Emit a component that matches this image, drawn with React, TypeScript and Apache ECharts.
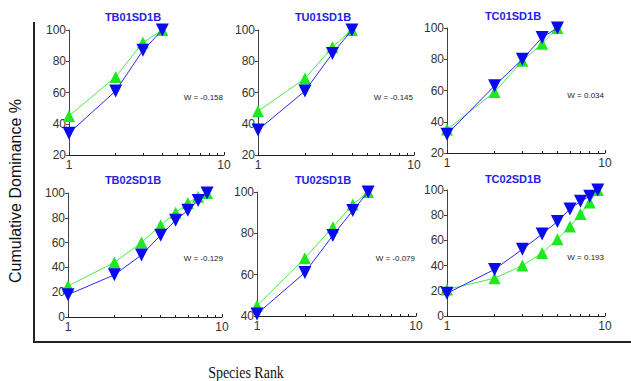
import React, { useEffect, useRef } from "react";
import * as echarts from "echarts";

const panelTitles = ["TB01SD1B", "TU01SD1B", "TC01SD1B", "TB02SD1B", "TU02SD1B", "TC02SD1B"];
const wLabels = ["W = -0.158", "W = -0.145", "W = 0.034", "W = -0.129", "W = -0.079", "W = 0.193"];
const yMins = [20, 20, 20, 0, 40, 0];
const yMax = 100;
const xTickLabels = ["1", "10"];

// cumulative dominance (%) by species rank 1..n
const greenSeries: number[][] = [
  [45, 70, 92, 100],
  [48, 69, 89, 100],
  [35, 59, 79, 90, 100],
  [25, 44, 60, 74, 84, 92, 97, 100],
  [45, 68, 83, 94, 100],
  [21, 30, 40, 50, 61, 71, 81, 90, 100],
];
const blueSeries: number[][] = [
  [34, 61, 87, 100],
  [36, 61, 85, 100],
  [32, 63, 80, 94, 100],
  [18, 34, 50, 66, 78, 86, 94, 100],
  [41, 61, 79, 91, 100],
  [18, 37, 53, 65, 75, 85, 91, 95, 100],
];

const FONT = "'Liberation Sans', Arial, sans-serif";

const grids = [
  { left: 69, top: 30, width: 155, height: 125 },
  { left: 258, top: 30, width: 156, height: 125 },
  { left: 447, top: 28, width: 158, height: 125 },
  { left: 68, top: 193, width: 154, height: 124 },
  { left: 257, top: 192, width: 159, height: 124 },
  { left: 447, top: 190, width: 158, height: 126 },
];
const titlePos = [
  [133, 17], [323, 17], [513, 16], [133, 180], [323, 180], [513, 179],
];
const wPos = [
  [223, 97], [413, 97], [604, 95], [223, 258], [415, 258], [604, 257],
];

export default function App() {
  const ref = useRef<HTMLDivElement>(null);
  useEffect(() => {
    document.body.style.margin = "0";
    const chart = echarts.init(ref.current!, null, { renderer: "svg" });
    const xAxis: any[] = [];
    const yAxis: any[] = [];
    const series: any[] = [];
    const graphic: any[] = [];
    grids.forEach((g, i) => {
      xAxis.push({
        type: "log",
        logBase: 10,
        gridIndex: i,
        min: 1,
        max: 10,
        axisLine: { lineStyle: { color: "#222", width: 1 } },
        axisTick: { show: true, inside: true, length: 3, lineStyle: { color: "#222" } },
        minorTick: { show: true, splitNumber: 9, length: 2, lineStyle: { color: "#222" } },
        splitLine: { show: false },
        minorSplitLine: { show: false },
        axisLabel: {
          fontFamily: FONT,
          fontSize: 12,
          color: "#333",
          margin: 4,
          formatter: (v: number) => (v === 1 ? xTickLabels[0] : v === 10 ? xTickLabels[1] : ""),
        },
      });
      yAxis.push({
        type: "value",
        gridIndex: i,
        min: yMins[i],
        max: yMax,
        interval: 20,
        axisLine: { show: true, lineStyle: { color: "#444", width: 1 } },
        axisTick: { show: true, length: 3, lineStyle: { color: "#444" } },
        splitLine: { show: false },
        axisLabel: { fontFamily: FONT, fontSize: 12, color: "#333", margin: 3 },
      });
      series.push({
        type: "line",
        xAxisIndex: i,
        yAxisIndex: i,
        data: greenSeries[i].map((v, k) => [k + 1, v]),
        symbol: "triangle",
        symbolSize: [12, 12],
        itemStyle: { color: "#1ee81e" },
        lineStyle: { color: "#44ee44", width: 1 },
        z: 2,
      });
      series.push({
        type: "line",
        xAxisIndex: i,
        yAxisIndex: i,
        data: blueSeries[i].map((v, k) => [k + 1, v]),
        symbol: "triangle",
        symbolRotate: 180,
        symbolSize: [13, 13],
        itemStyle: { color: "#0a0af0" },
        lineStyle: { color: "#2a2af0", width: 1 },
        z: 3,
      });
      graphic.push({
        type: "text",
        x: titlePos[i][0],
        y: titlePos[i][1],
        style: {
          text: panelTitles[i],
          fill: "#2323e0",
          font: `bold 11px ${FONT}`,
          textAlign: "center",
          textVerticalAlign: "middle",
        },
      });
      graphic.push({
        type: "text",
        x: wPos[i][0],
        y: wPos[i][1],
        style: {
          text: wLabels[i],
          fill: "#222",
          font: `8px ${FONT}`,
          textAlign: "right",
          textVerticalAlign: "middle",
        },
      });
    });
    graphic.push(
      { type: "line", shape: { x1: 34, y1: 22, x2: 34, y2: 342 }, style: { stroke: "#222", lineWidth: 2 } },
      { type: "line", shape: { x1: 33, y1: 342, x2: 631, y2: 342 }, style: { stroke: "#222", lineWidth: 2 } },
      {
        type: "text",
        x: 15,
        y: 191,
        rotation: Math.PI / 2,
        style: {
          text: "Cumulative Dominance %",
          fill: "#111",
          font: `16px ${FONT}`,
          textAlign: "center",
          textVerticalAlign: "middle",
        },
      },
      {
        type: "text",
        x: 246,
        y: 372,
        scaleY: 1.25,
        style: {
          text: "Species Rank",
          fill: "#111",
          font: "14px 'Liberation Serif', 'Times New Roman', serif",
          textAlign: "center",
          textVerticalAlign: "middle",
        },
      }
    );
    chart.setOption({
      animation: false,
      backgroundColor: "#fff",
      grid: grids.map((g) => ({ ...g, containLabel: false })),
      xAxis,
      yAxis,
      series,
      graphic,
    });
    return () => chart.dispose();
  }, []);
  return (
    <div
      ref={ref}
      style={{ position: "absolute", left: 0, top: 0, width: 631, height: 381 }}
    />
  );
}
